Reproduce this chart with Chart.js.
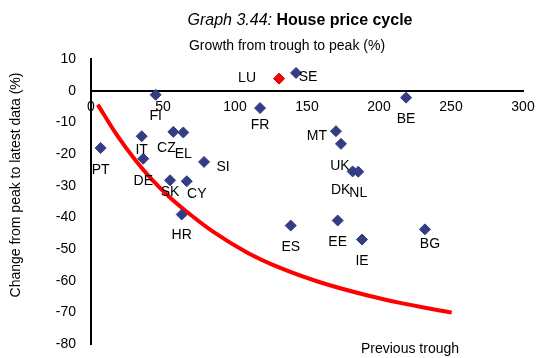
<!DOCTYPE html>
<html>
<head>
<meta charset="utf-8">
<script src="https://cdn.jsdelivr.net/npm/chart.js@4/dist/chart.umd.min.js"></script>
<style>
  html, body { margin: 0; padding: 0; background: #fff; }
</style>
</head>
<body>
<canvas id="houseChart" width="538" height="358"></canvas>
<script>
// ========== DATA ==========
const countries = ['FI', 'PT', 'IT', 'DE', 'CZ', 'EL', 'SI', 'SK', 'CY', 'HR', 'FR',
                   'LU', 'SE', 'BE', 'MT', 'UK', 'DK', 'NL', 'ES', 'EE', 'IE', 'BG'];
// growth from trough to peak (%)
const growth = [44.9, 6.7, 35.2, 36.3, 57.2, 64.1, 78.5, 54.9, 66.5, 63.0, 117.4,
                130.6, 142.4, 218.8, 170.1, 173.6, 181.7, 185.6, 138.7, 171.3, 188.2, 231.9];
// change from peak to latest data (%)
const change = [-1.3, -18.1, -14.4, -21.5, -13.0, -13.2, -22.5, -28.3, -28.6, -39.1, -5.5,
                3.8, 5.6, -2.2, -12.8, -16.8, -25.5, -25.6, -42.6, -41.0, -47.0, -43.8];

// previous trough curve
const troughX = [4.7, 17.8, 30.6, 42.2, 55, 70, 85, 108, 131, 159, 191.5, 214.6, 250.5];
const troughY = [-4.4, -13.9, -21.8, -28.0, -33.8, -39.5, -44.6, -51.0, -55.9, -60.5, -64.6, -67.0, -70.1];

const xTicks = [0, 50, 100, 150, 200, 250, 300];
const yTicks = [-80, -70, -60, -50, -40, -30, -20, -10, 0, 10];

// label placement (pixel offsets from the marker)
const labelOffsets = {
  FI: [0, 21], PT: [0, 22], IT: [0, 14], DE: [0, 22], CZ: [-7, 16], EL: [0, 22],
  SI: [19, 5], SK: [0, 12], CY: [10, 13], HR: [0, 21], FR: [0, 17], LU: [-32, 0],
  SE: [12, 4], BE: [0, 22], MT: [-19, 5], UK: [-1, 22], DK: [-12, 19], NL: [0, 21],
  ES: [0, 22], EE: [0, 22], IE: [0, 22], BG: [5, 15]
};

const FONT = "'Liberation Sans', Arial, Helvetica, sans-serif";
Chart.defaults.font.family = FONT;
Chart.defaults.font.size = 14;
Chart.defaults.color = '#000';

const navy = '#333D84';
const pointFill = countries.map(c => c === 'LU' ? '#FF0000' : navy);
const pointEdge = countries.map(c => c === 'LU' ? '#C00000' : navy);

// ========== TEXT: titles, point labels, legend text ==========
const textPlugin = {
  id: 'texts',
  afterDatasetsDraw(chart) {
    const ctx = chart.ctx;
    const meta = chart.getDatasetMeta(1);
    ctx.save();
    ctx.fillStyle = '#000';

    // point labels
    ctx.font = '14px ' + FONT;
    ctx.textAlign = 'center';
    ctx.textBaseline = 'middle';
    meta.data.forEach((pt, i) => {
      const off = labelOffsets[countries[i]] || [0, 20];
      ctx.fillText(countries[i], pt.x + off[0], pt.y + off[1]);
    });

    // title with mixed styles
    const part1 = 'Graph 3.44: ';
    const part2 = 'House price cycle';
    ctx.textBaseline = 'alphabetic';
    ctx.textAlign = 'left';
    ctx.font = 'italic 16px ' + FONT;
    const w1 = ctx.measureText(part1).width;
    ctx.font = 'bold 16px ' + FONT;
    const w2 = ctx.measureText(part2).width;
    let x = 300 - (w1 + w2) / 2;
    ctx.font = 'italic 16px ' + FONT;
    ctx.fillText(part1, x, 25);
    ctx.font = 'bold 16px ' + FONT;
    ctx.fillText(part2, x + w1, 25);

    // subtitle
    ctx.font = '14px ' + FONT;
    ctx.textAlign = 'center';
    ctx.fillText('Growth from trough to peak (%)', 287, 50);

    // legend text
    ctx.fillText('Previous trough', 410, 353);

    // y axis title
    ctx.translate(16, 185);
    ctx.rotate(-Math.PI / 2);
    ctx.textBaseline = 'middle';
    ctx.fillText('Change from peak to latest data (%)', 0, 0);
    ctx.restore();
  }
};

// ========== SCATTER: House price cycle ==========
const houseChart = new Chart(document.getElementById('houseChart'), {
  type: 'scatter',
  data: {
    datasets: [{
      label: 'Previous trough',
      data: troughX.map((x, i) => ({ x: x, y: troughY[i] })),
      showLine: true,
      borderColor: '#FF0000',
      borderWidth: 4,
      pointRadius: 0,
      cubicInterpolationMode: 'monotone',
      order: 2
    }, {
      label: 'Countries',
      data: countries.map((c, i) => ({ x: growth[i], y: change[i] })),
      pointStyle: 'rectRot',
      pointRadius: 5.5,
      pointBackgroundColor: pointFill,
      pointBorderColor: pointEdge,
      pointBorderWidth: 1,
      order: 1
    }]
  },
  options: {
    responsive: false,
    animation: false,
    layout: { padding: { left: 0, top: 59, right: 15, bottom: 14 } },
    plugins: {
      legend: { display: false },
      tooltip: { enabled: false }
    },
    scales: {
      x: {
        type: 'linear',
        position: { y: 0 },
        min: 0,
        max: 300,
        afterBuildTicks: s => { s.ticks = xTicks.map(v => ({ value: v })); },
        ticks: { padding: 8, maxRotation: 0 },
        grid: { display: false, drawTicks: false },
        border: { display: true, color: '#000', width: 2 },
        afterFit: s => { s.paddingLeft = 0; s.paddingRight = 0; }
      },
      y: {
        min: -80,
        max: 10,
        afterBuildTicks: s => { s.ticks = yTicks.map(v => ({ value: v })); },
        ticks: { padding: 15 },
        grid: { display: false, drawTicks: false },
        border: { display: true, color: '#000', width: 2 },
        afterFit: s => { s.width = 91; s.paddingTop = 0; s.paddingBottom = 0; }
      }
    }
  },
  plugins: [textPlugin]
});
</script>
</body>
</html>
